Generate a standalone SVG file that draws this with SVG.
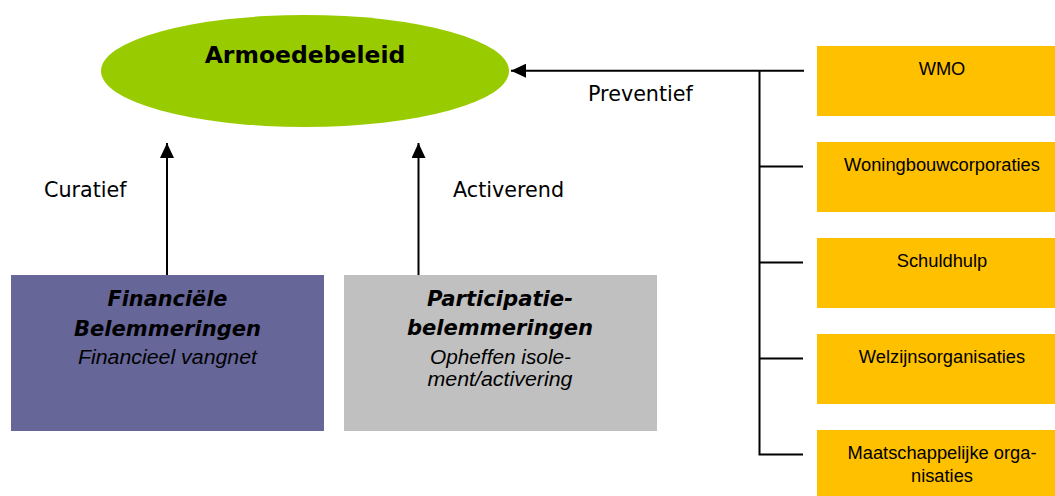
<svg xmlns="http://www.w3.org/2000/svg" width="1055" height="496" viewBox="0 0 1055 496">
  <style>
    .lbl { font-family: "DejaVu Sans", Verdana, sans-serif; font-size: 20.7px; fill: #000; }
    .ttl { font-family: "DejaVu Sans", Verdana, sans-serif; font-size: 23.5px; font-weight: bold; fill: #000; }
    .bi { font-family: "DejaVu Sans", Verdana, sans-serif; font-size: 20.5px; font-weight: bold; font-style: italic; fill: #000; }
    .it { font-family: "Liberation Sans", Arial, sans-serif; font-size: 19.5px; font-style: italic; fill: #000; }
    .org { font-family: "Liberation Sans", Arial, sans-serif; font-size: 18.3px; fill: #000; }
    .ln { fill: none; stroke: #000; stroke-width: 2; }
    .box { fill: #FFC000; }
  </style>
  <defs>
    <marker id="ah" viewBox="0 0 15 14" refX="15" refY="7" markerWidth="15" markerHeight="14" markerUnits="userSpaceOnUse" orient="auto">
      <path d="M0,0 L15,7 L0,14 z" fill="#000"/>
    </marker>
  </defs>
  <rect width="1055" height="496" fill="#fff"/>

  <g id="armoedebeleid">
    <ellipse cx="305" cy="71" rx="204" ry="56" fill="#99CC00"/>
    <text class="ttl" x="305" y="63" text-anchor="middle">Armoedebeleid</text>
  </g>

  <g id="financiele">
    <rect x="11" y="275" width="313" height="156" fill="#666699"/>
    <text class="bi" x="167.5" y="306" text-anchor="middle" textLength="120" lengthAdjust="spacingAndGlyphs">Financiële</text>
    <text class="bi" x="167.5" y="335.5" text-anchor="middle" textLength="187" lengthAdjust="spacingAndGlyphs">Belemmeringen</text>
    <text class="it" x="167.5" y="364" text-anchor="middle" textLength="179" lengthAdjust="spacingAndGlyphs">Financieel vangnet</text>
  </g>

  <g id="participatie">
    <rect x="344" y="275" width="313" height="156" fill="#C0C0C0"/>
    <text class="bi" x="500" y="306" text-anchor="middle" textLength="146" lengthAdjust="spacingAndGlyphs">Participatie-</text>
    <text class="bi" x="500" y="335" text-anchor="middle" textLength="186" lengthAdjust="spacingAndGlyphs">belemmeringen</text>
    <text class="it" x="500.5" y="363.5" text-anchor="middle" textLength="141" lengthAdjust="spacingAndGlyphs">Opheffen isole-</text>
    <text class="it" x="500" y="386" text-anchor="middle" textLength="145" lengthAdjust="spacingAndGlyphs">ment/activering</text>
  </g>

  <g id="wmo">
    <rect class="box" x="817" y="46" width="238" height="70"/>
    <text class="org" x="942" y="74.5" text-anchor="middle">WMO</text>
  </g>
  <g id="woningbouw">
    <rect class="box" x="817" y="142" width="238" height="70"/>
    <text class="org" x="942" y="170.7" text-anchor="middle">Woningbouwcorporaties</text>
  </g>
  <g id="schuldhulp">
    <rect class="box" x="817" y="238" width="238" height="70"/>
    <text class="org" x="942" y="266.7" text-anchor="middle">Schuldhulp</text>
  </g>
  <g id="welzijn">
    <rect class="box" x="817" y="334" width="238" height="70"/>
    <text class="org" x="942" y="362.7" text-anchor="middle">Welzijnsorganisaties</text>
  </g>
  <g id="maatschappelijk">
    <rect class="box" x="817" y="430" width="238" height="66"/>
    <text class="org" x="942" y="459" text-anchor="middle">Maatschappelijke orga-</text>
    <text class="org" x="942" y="481.7" text-anchor="middle">nisaties</text>
  </g>

  <g id="connectors">
    <path class="ln" d="M167,275 V143" marker-end="url(#ah)"/>
    <path class="ln" d="M418.5,275 V143" marker-end="url(#ah)"/>
    <path class="ln" d="M804,70.7 H511" marker-end="url(#ah)"/>
    <path class="ln" d="M759.5,70.7 V454.5 H803 M759.5,166.5 H803 M759.5,262.5 H803 M759.5,358.5 H803"/>
    <text class="lbl" x="44" y="196.7">Curatief</text>
    <text class="lbl" x="453" y="196.7">Activerend</text>
    <text class="lbl" x="588" y="101">Preventief</text>
  </g>
</svg>
